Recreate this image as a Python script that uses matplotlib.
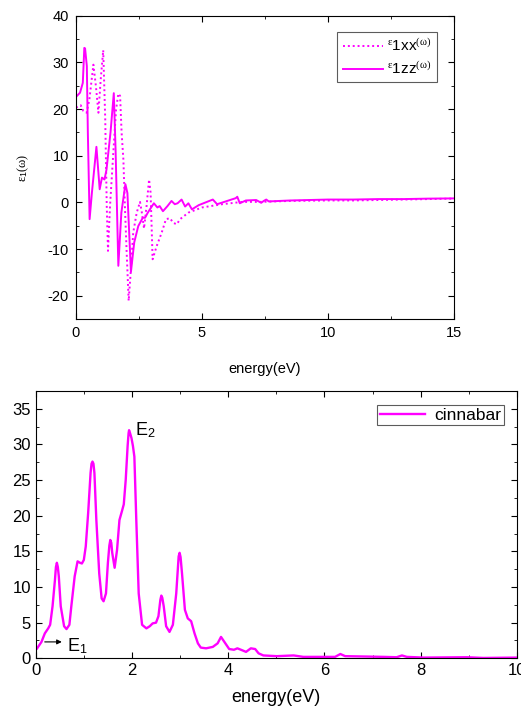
import matplotlib
matplotlib.use("Agg")
import matplotlib.pyplot as plt
from matplotlib.ticker import MultipleLocator

plt.rcParams['font.family'] = ['Liberation Sans', 'DejaVu Sans']
plt.rcParams['mathtext.fontset'] = 'custom'
plt.rcParams['mathtext.rm'] = 'Liberation Serif'
plt.rcParams['mathtext.it'] = 'Liberation Serif'
plt.rcParams['mathtext.sf'] = 'Liberation Sans'
plt.rcParams['axes.unicode_minus'] = False

COLOR = '#ff00ff'

# ---- top panel: real part of dielectric function ----
e1zz_x = [0, 0.16, 0.27, 0.33, 0.36, 0.43, 0.47, 0.54, 0.63, 0.81, 0.94, 1.03, 1.13, 1.21,
          1.37, 1.5, 1.57, 1.68, 1.8, 1.96, 2.04, 2.18, 2.31, 2.47, 2.65, 2.74, 2.85, 3.09,
          3.23, 3.32, 3.45, 3.63, 3.79, 3.92, 4.03, 4.19, 4.33, 4.46, 4.6, 4.87, 5.43, 5.6,
          6.34, 6.4, 6.5, 6.74, 7.15, 7.35, 7.45, 7.55, 7.65, 8.5, 10, 11, 12, 13, 14, 15]
e1zz_y = [22.6, 23.5, 25.6, 33.1, 33.0, 29.2, 15, -3.6, 2, 11.9, 2.8, 5.3, 4.9, 7,
          15, 23.4, 11.4, -13.6, -2.2, 3.9, 2, -14.9, -8.6, -5.1, -3.3, -3.3, -2.2, -0.2,
          -1.1, -0.8, -1.9, -0.8, 0.3, -0.4, -0.2, 0.6, -0.9, -0.2, -1.5, -0.6, 0.6, -0.4,
          0.9, 1.2, -0.2, 0.4, 0.5, -0.1, 0.3, 0.6, 0.2, 0.4, 0.6, 0.6, 0.7, 0.7, 0.8, 0.85]

e1xx_x = [0, 0.19, 0.29, 0.42, 0.53, 0.69, 0.79, 0.89, 0.98, 1.08, 1.16, 1.22, 1.27, 1.35,
          1.48, 1.59, 1.68, 1.75, 1.81, 1.88, 1.94, 2.01, 2.09, 2.17, 2.27, 2.41, 2.54, 2.61,
          2.7, 2.8, 2.9, 2.96, 3.04, 3.2, 3.4, 3.57, 3.73, 3.86, 4.0, 4.13, 4.46, 5.0, 5.8,
          6.6, 7.3, 8.5, 10, 11, 12, 13, 14, 15]
e1xx_y = [20.3, 20.8, 19.6, 19.2, 22, 29.5, 24.9, 19.2, 26.3, 32.6, 17.8, -0.8, -10.4, -0.8,
          10.6, 19.9, 23.3, 22.8, 14.9, 9.2, -0.8, -10.7, -21.1, -15, -6.5, -2.2, 0.1, -2.1,
          -5.6, -0.8, 4.9, 2.1, -12.2, -9.4, -6.5, -3.6, -3.4, -4.4, -4.7, -3.6, -2.2, -1.1, -0.4,
          0.1, 0.1, 0.3, 0.4, 0.4, 0.5, 0.6, 0.7, 0.8]

# ---- bottom panel: imaginary part (cinnabar) ----
e2_x = [0.03, 0.12, 0.19, 0.26, 0.3, 0.35, 0.4, 0.42, 0.44, 0.46, 0.48, 0.52, 0.59, 0.64,
        0.7, 0.74, 0.81, 0.87, 0.92, 0.96, 1.0, 1.04, 1.09, 1.14, 1.16, 1.18, 1.20, 1.22,
        1.26, 1.32, 1.37, 1.41, 1.46, 1.5, 1.53, 1.55, 1.57, 1.59, 1.64, 1.69, 1.74, 1.79,
        1.83, 1.87, 1.91, 1.93, 1.94, 1.96, 1.99, 2.02, 2.05, 2.09, 2.14, 2.21, 2.3, 2.37,
        2.43, 2.5, 2.55, 2.59, 2.61, 2.63, 2.66, 2.71, 2.78, 2.85, 2.92, 2.97, 2.99, 3.01,
        3.04, 3.1, 3.16, 3.23, 3.3, 3.37, 3.43, 3.54, 3.68, 3.78, 3.85, 3.92, 4.02, 4.12,
        4.19, 4.3, 4.37, 4.47, 4.56, 4.63, 4.73, 5.01, 5.36, 5.56, 5.98, 6.22, 6.33, 6.43,
        7.23, 7.5, 7.61, 7.71, 8.06, 8.96, 9.3, 10.0]
e2_y = [1.4, 2.3, 3.5, 4.2, 4.7, 7.3, 11, 12.8, 13.4, 12.8, 11.5, 7.3, 4.5, 4.1,
        4.7, 7.3, 11.5, 13.6, 13.4, 13.3, 13.8, 15.7, 20.4, 26, 27.3, 27.6, 27.3, 26,
        19.4, 11.9, 8.4, 8.0, 9.1, 13.4, 15.8, 16.6, 16.2, 14.8, 12.7, 15.2, 19.4, 20.6,
        21.6, 25, 29.8, 31.6, 32, 31.6, 30.9, 29.8, 28.3, 19.4, 9.1, 4.7, 4.2, 4.5,
        4.9, 5.0, 5.9, 8.2, 8.8, 8.5, 7.3, 4.5, 3.7, 4.7, 9.1, 14.3, 14.8, 14.2,
        11.9, 6.8, 5.6, 5.2, 3.5, 2.1, 1.5, 1.4, 1.6, 2.1, 3.0, 2.3, 1.3, 1.2,
        1.4, 1.1, 0.9, 1.4, 1.3, 0.7, 0.4, 0.3, 0.4, 0.2, 0.2, 0.2, 0.6, 0.3,
        0.2, 0.15, 0.4, 0.2, 0.1, 0.15, 0.05, 0.1]

fig = plt.figure(figsize=(5.21, 7.10), dpi=100)

# top axes
ax1 = fig.add_axes([76/521, 1-319/710, (454-76)/521, (319-15.7)/710])
ax1.plot(e1xx_x, e1xx_y, color=COLOR, lw=1.4, ls=(0, (1, 1.5)),
         label=r'$^{\varepsilon}$1xx$^{(\omega)}$')
ax1.plot(e1zz_x, e1zz_y, color=COLOR, lw=1.4, label=r'$^{\varepsilon}$1zz$^{(\omega)}$')
ax1.set_xlim(0, 15)
ax1.set_ylim(-25, 40)
ax1.xaxis.set_major_locator(MultipleLocator(5))
ax1.xaxis.set_minor_locator(MultipleLocator(2.5))
ax1.yaxis.set_major_locator(MultipleLocator(10))
ax1.yaxis.set_minor_locator(MultipleLocator(5))
ax1.tick_params(which='both', direction='in', top=True, right=True, labelsize=10.5)
ax1.tick_params(which='major', length=4, pad=5)
ax1.tick_params(which='minor', length=2.5)
ax1.set_xlabel('energy(eV)', fontsize=10.5, labelpad=16)
ax1.set_ylabel(r'$\varepsilon_{\mathsf{1}}(\omega)$', fontsize=9, labelpad=12)
leg1 = ax1.legend(loc='upper right', fontsize=11, frameon=True, fancybox=False,
                  edgecolor='#333333', handlelength=2.6, borderpad=0.35,
                  labelspacing=0.4, handletextpad=0.3,
                  bbox_to_anchor=(0.975, 0.97))
leg1.get_frame().set_linewidth(0.8)

# bottom axes
ax2 = fig.add_axes([35.7/521, 1-658.3/710, (517-35.7)/521, (658.3-391)/710])
ax2.plot(e2_x, e2_y, color=COLOR, lw=1.7, label='cinnabar')
ax2.set_xlim(0, 10)
ax2.set_ylim(0, 37.5)
ax2.xaxis.set_major_locator(MultipleLocator(2))
ax2.xaxis.set_minor_locator(MultipleLocator(1))
ax2.yaxis.set_major_locator(MultipleLocator(5))
ax2.yaxis.set_minor_locator(MultipleLocator(2.5))
ax2.tick_params(which='both', direction='in', top=True, right=True, labelsize=12)
ax2.tick_params(which='major', length=4)
ax2.tick_params(which='minor', length=2.5)
ax2.set_xlabel('energy(eV)', fontsize=13, labelpad=8)
ax2.annotate('', xy=(0.6, 2.3), xytext=(0.13, 2.3),
             arrowprops=dict(arrowstyle='-|>', color='black', lw=0.8, mutation_scale=7))
ax2.text(0.65, 1.0, r'E$_{\mathsf{1}}$', fontsize=13, ha='left', va='baseline')
ax2.text(2.07, 31.3, r'E$_{\mathsf{2}}$', fontsize=13, ha='left', va='baseline')
leg2 = ax2.legend(loc='upper right', fontsize=12.5, frameon=True, fancybox=False,
                  edgecolor='#333333', handlelength=2.6, borderpad=0.15,
                  handletextpad=0.5, bbox_to_anchor=(0.99, 0.98))
leg2.get_frame().set_linewidth(0.8)

fig.savefig('out.png', dpi=100)
